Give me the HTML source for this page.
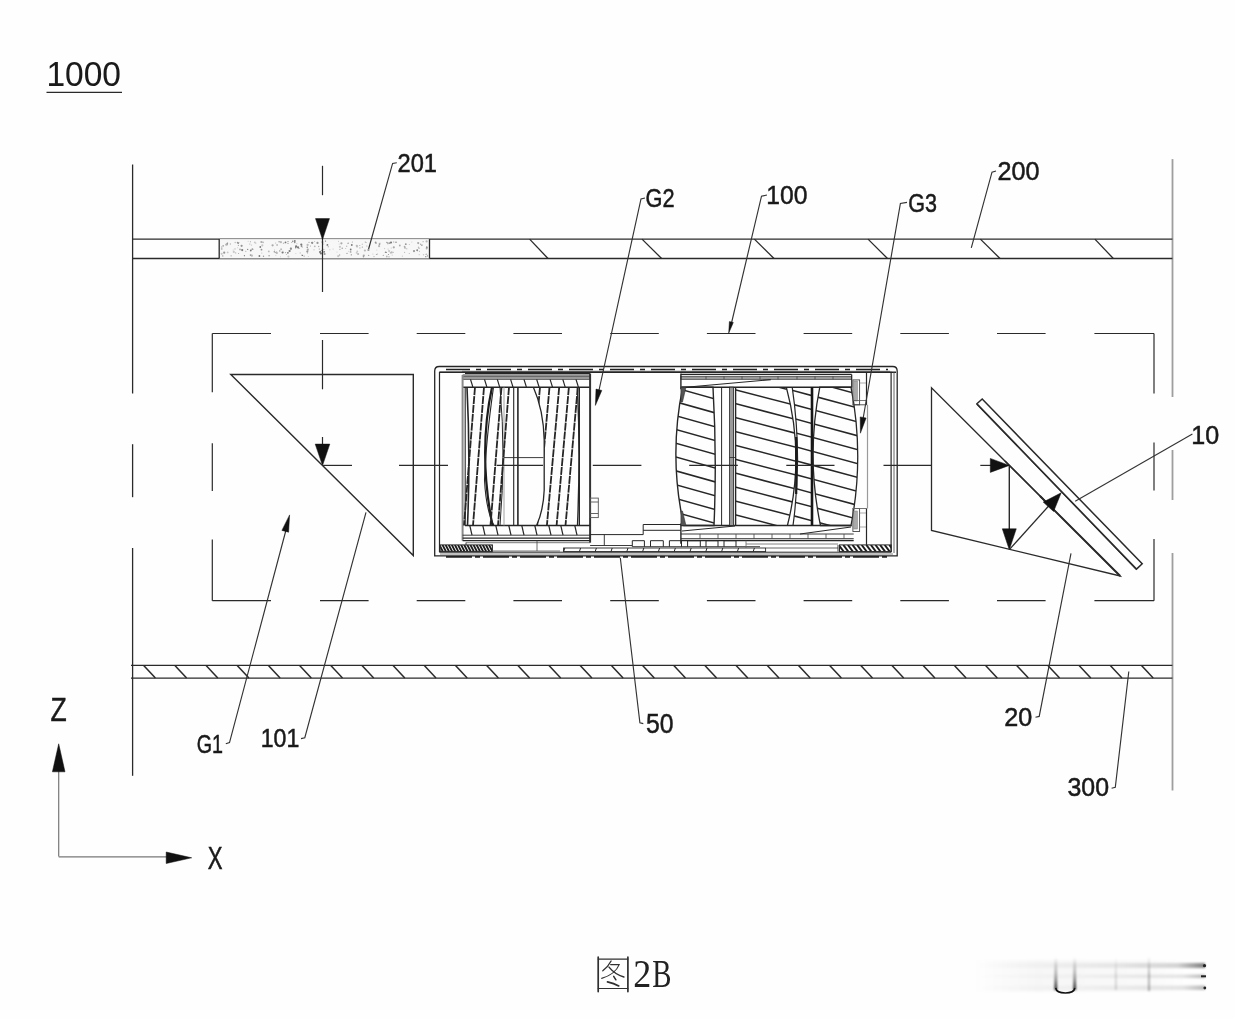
<!DOCTYPE html>
<html><head><meta charset="utf-8"><title>Fig 2B</title>
<style>
html,body{margin:0;padding:0;background:#fefefe;}
body{width:1235px;height:1019px;overflow:hidden;font-family:"Liberation Sans",sans-serif;}
svg{display:block;}
</style></head><body>
<svg width="1235" height="1019" viewBox="0 0 1235 1019">
<rect width="1235" height="1019" fill="#fefefe"/>
<g id="lens">
<path d="M434.7 555.8 V371 Q434.7 366.5 439.2 366.5 H892.7 Q897.2 366.5 897.2 371 V555.8 Z" fill="none" stroke="#262626" stroke-width="1.3" />
<path d="M439.5 552.2 V372.3 H891.1 V552.2" fill="none" stroke="#262626" stroke-width="1.2" />
<line x1="439.5" y1="372.3" x2="896.0" y2="372.3" stroke="#262626" stroke-width="1.5" />
<line x1="894.0" y1="372.3" x2="894.0" y2="553.0" stroke="#555" stroke-width="0.9" />
<line x1="446.0" y1="369.5" x2="888.0" y2="369.5" stroke="#222" stroke-width="1.7" stroke-dasharray="24 6 5 6"/>
<line x1="462.0" y1="371.3" x2="890.0" y2="371.3" stroke="#444" stroke-width="0.8" />
<line x1="439.5" y1="552.2" x2="891.1" y2="552.2" stroke="#262626" stroke-width="1.0" />
<line x1="440.0" y1="554.0" x2="893.0" y2="554.0" stroke="#666" stroke-width="0.8" />
<line x1="446.0" y1="556.8" x2="887.0" y2="556.8" stroke="#222" stroke-width="1.7" stroke-dasharray="26 3 5 3"/>
<line x1="465.0" y1="373.5" x2="590.1" y2="373.5" stroke="#262626" stroke-width="1.2" />
<line x1="462.6" y1="375.0" x2="590.1" y2="375.0" stroke="#262626" stroke-width="0.9" />
<rect x="462.6" y="376.2" width="127.5" height="3.1" fill="#9a9a9a" stroke="#262626" stroke-width="0.6" />
<line x1="462.6" y1="387.2" x2="590.1" y2="387.2" stroke="#262626" stroke-width="1.5" />
<line x1="470.5" y1="379.3" x2="472.9" y2="387.2" stroke="#262626" stroke-width="1.2" />
<line x1="484.5" y1="379.3" x2="486.9" y2="387.2" stroke="#262626" stroke-width="1.2" />
<line x1="497.3" y1="379.3" x2="499.7" y2="387.2" stroke="#262626" stroke-width="1.2" />
<line x1="510.6" y1="379.3" x2="513.0" y2="387.2" stroke="#262626" stroke-width="1.2" />
<line x1="524.0" y1="379.3" x2="526.4" y2="387.2" stroke="#262626" stroke-width="1.2" />
<line x1="536.7" y1="379.3" x2="539.1" y2="387.2" stroke="#262626" stroke-width="1.2" />
<line x1="550.1" y1="379.3" x2="552.5" y2="387.2" stroke="#262626" stroke-width="1.2" />
<line x1="562.8" y1="379.3" x2="565.2" y2="387.2" stroke="#262626" stroke-width="1.2" />
<line x1="576.0" y1="379.3" x2="578.4" y2="387.2" stroke="#262626" stroke-width="1.2" />
<line x1="462.6" y1="375.0" x2="462.6" y2="540.7" stroke="#8a8a8a" stroke-width="2.0" />
<line x1="465.2" y1="387.2" x2="465.2" y2="525.5" stroke="#262626" stroke-width="1.1" />
<line x1="590.1" y1="373.5" x2="590.1" y2="542.7" stroke="#333" stroke-width="2.0" />
<line x1="579.4" y1="387.2" x2="579.4" y2="525.5" stroke="#262626" stroke-width="1.2" />
<line x1="465.0" y1="525.5" x2="590.1" y2="525.5" stroke="#262626" stroke-width="1.6" />
<line x1="462.6" y1="535.2" x2="590.1" y2="535.2" stroke="#262626" stroke-width="0.9" />
<line x1="462.6" y1="538.2" x2="590.1" y2="538.2" stroke="#262626" stroke-width="1.2" />
<line x1="462.6" y1="540.7" x2="590.1" y2="540.7" stroke="#262626" stroke-width="1.2" />
<line x1="469.8" y1="525.5" x2="472.0" y2="535.2" stroke="#262626" stroke-width="1.2" />
<line x1="482.8" y1="525.5" x2="485.0" y2="535.2" stroke="#262626" stroke-width="1.2" />
<line x1="495.8" y1="525.5" x2="498.0" y2="535.2" stroke="#262626" stroke-width="1.2" />
<line x1="508.8" y1="525.5" x2="511.0" y2="535.2" stroke="#262626" stroke-width="1.2" />
<line x1="521.8" y1="525.5" x2="524.0" y2="535.2" stroke="#262626" stroke-width="1.2" />
<line x1="534.8" y1="525.5" x2="537.0" y2="535.2" stroke="#262626" stroke-width="1.2" />
<line x1="548.8" y1="525.5" x2="551.0" y2="535.2" stroke="#262626" stroke-width="1.2" />
<line x1="560.8" y1="525.5" x2="563.0" y2="535.2" stroke="#262626" stroke-width="1.2" />
<line x1="574.8" y1="525.5" x2="577.0" y2="535.2" stroke="#262626" stroke-width="1.2" />
<line x1="504.0" y1="387.2" x2="504.0" y2="525.5" stroke="#999" stroke-width="0.9" />
<line x1="513.7" y1="387.2" x2="513.7" y2="525.5" stroke="#262626" stroke-width="1.1" />
<line x1="517.9" y1="387.2" x2="517.9" y2="525.5" stroke="#262626" stroke-width="1.6" />
<line x1="504.0" y1="457.6" x2="543.4" y2="457.6" stroke="#262626" stroke-width="0.9" />
<path d="M467 387.2 Q470.5 456 467.5 525.5" fill="none" stroke="#262626" stroke-width="1.6" />
<path d="M492 387.2 Q478 452 492.5 525.5" fill="none" stroke="#1c1c1c" stroke-width="2.2" />
<path d="M493.5 387.2 Q486 440 484.5 480 Q486 510 494 525.5" fill="none" stroke="#262626" stroke-width="1.1" />
<path d="M500 387.2 Q506 455 500 525.5" fill="none" stroke="#262626" stroke-width="1.0" />
<line x1="475.0" y1="387.2" x2="464.0" y2="525.5" stroke="#262626" stroke-width="1.8" stroke-dasharray="8 0.9"/>
<line x1="484.0" y1="387.2" x2="473.0" y2="525.5" stroke="#262626" stroke-width="1.8" stroke-dasharray="8 0.9"/>
<line x1="501.5" y1="387.2" x2="490.5" y2="525.5" stroke="#262626" stroke-width="1.8" stroke-dasharray="8 0.9"/>
<line x1="509.0" y1="387.2" x2="498.0" y2="525.5" stroke="#262626" stroke-width="1.8" stroke-dasharray="8 0.9"/>
<clipPath id="cg2r"><path d="M533.4 387.2 Q543.5 410 544.2 440 V490 Q543.5 510 536.6 525.5 H579 V387.2 Z"/></clipPath>
<path d="M533.4 387.2 Q543.5 410 544.2 440 V490 Q543.5 510 536.6 525.5" fill="none" stroke="#262626" stroke-width="1.3" />
<g clip-path="url(#cg2r)">
<line x1="540.0" y1="387.2" x2="527.7" y2="525.5" stroke="#262626" stroke-width="1.8" stroke-dasharray="8 0.9"/>
<line x1="549.5" y1="387.2" x2="537.2" y2="525.5" stroke="#262626" stroke-width="1.8" stroke-dasharray="8 0.9"/>
<line x1="559.2" y1="387.2" x2="546.9" y2="525.5" stroke="#262626" stroke-width="1.8" stroke-dasharray="8 0.9"/>
<line x1="568.9" y1="387.2" x2="556.6" y2="525.5" stroke="#262626" stroke-width="1.8" stroke-dasharray="8 0.9"/>
<line x1="577.8" y1="387.2" x2="565.5" y2="525.5" stroke="#262626" stroke-width="1.8" stroke-dasharray="8 0.9"/>
</g>
<path d="M577.5 387.2 Q580.5 456 577.5 525.5" fill="none" stroke="#262626" stroke-width="1.4" />
<rect x="590.1" y="498.1" width="8.2" height="19.5" fill="none" stroke="#555" stroke-width="0.9" />
<line x1="590.1" y1="502.0" x2="598.3" y2="502.0" stroke="#555" stroke-width="0.9" />
<line x1="590.1" y1="513.5" x2="598.3" y2="513.5" stroke="#555" stroke-width="0.9" />
<line x1="680.9" y1="374.4" x2="851.7" y2="374.4" stroke="#262626" stroke-width="1.2" />
<rect x="680.9" y="376.2" width="170.8" height="3.1" fill="#9a9a9a" stroke="#262626" stroke-width="0.6" />
<line x1="706.0" y1="376.2" x2="706.0" y2="379.3" stroke="#444" stroke-width="0.8" />
<line x1="724.0" y1="376.2" x2="724.0" y2="379.3" stroke="#444" stroke-width="0.8" />
<line x1="742.0" y1="376.2" x2="742.0" y2="379.3" stroke="#444" stroke-width="0.8" />
<line x1="760.0" y1="376.2" x2="760.0" y2="379.3" stroke="#444" stroke-width="0.8" />
<line x1="778.0" y1="376.2" x2="778.0" y2="379.3" stroke="#444" stroke-width="0.8" />
<line x1="797.0" y1="376.2" x2="797.0" y2="379.3" stroke="#444" stroke-width="0.8" />
<line x1="815.0" y1="376.2" x2="815.0" y2="379.3" stroke="#444" stroke-width="0.8" />
<line x1="833.0" y1="376.2" x2="833.0" y2="379.3" stroke="#444" stroke-width="0.8" />
<line x1="680.9" y1="373.5" x2="680.9" y2="389.2" stroke="#262626" stroke-width="1.4" />
<line x1="680.9" y1="523.5" x2="680.9" y2="543.7" stroke="#262626" stroke-width="1.4" />
<line x1="680.9" y1="387.2" x2="851.7" y2="387.2" stroke="#262626" stroke-width="1.6" />
<line x1="685.8" y1="387.2" x2="770.8" y2="379.6" stroke="#262626" stroke-width="1.1" />
<line x1="851.7" y1="374.4" x2="851.7" y2="387.2" stroke="#262626" stroke-width="1.2" />
<line x1="680.9" y1="525.5" x2="851.7" y2="525.5" stroke="#262626" stroke-width="1.6" />
<line x1="680.9" y1="534.0" x2="853.7" y2="534.0" stroke="#262626" stroke-width="0.9" />
<line x1="680.9" y1="538.8" x2="853.7" y2="538.8" stroke="#262626" stroke-width="1.1" />
<line x1="680.9" y1="540.7" x2="853.7" y2="540.7" stroke="#262626" stroke-width="1.2" />
<line x1="682.0" y1="531.0" x2="735.0" y2="526.0" stroke="#262626" stroke-width="1.0" />
<line x1="800.0" y1="534.0" x2="851.0" y2="527.0" stroke="#262626" stroke-width="1.0" />
<line x1="700.0" y1="534.0" x2="700.0" y2="538.8" stroke="#444" stroke-width="0.8" />
<line x1="718.0" y1="534.0" x2="718.0" y2="538.8" stroke="#444" stroke-width="0.8" />
<line x1="736.0" y1="534.0" x2="736.0" y2="538.8" stroke="#444" stroke-width="0.8" />
<line x1="754.0" y1="534.0" x2="754.0" y2="538.8" stroke="#444" stroke-width="0.8" />
<line x1="772.0" y1="534.0" x2="772.0" y2="538.8" stroke="#444" stroke-width="0.8" />
<line x1="790.0" y1="534.0" x2="790.0" y2="538.8" stroke="#444" stroke-width="0.8" />
<line x1="808.0" y1="534.0" x2="808.0" y2="538.8" stroke="#444" stroke-width="0.8" />
<line x1="826.0" y1="534.0" x2="826.0" y2="538.8" stroke="#444" stroke-width="0.8" />
<line x1="844.0" y1="534.0" x2="844.0" y2="538.8" stroke="#444" stroke-width="0.8" />
<clipPath id="c1"><path d="M682.7 387.2 Q668.5 456.5 683.8 525.5 H714 Q717 456 713 387.2 Z"/></clipPath>
<g clip-path="url(#c1)">
<line x1="672.0" y1="373.2" x2="718.0" y2="386.1" stroke="#262626" stroke-width="1.5" />
<line x1="672.0" y1="387.0" x2="718.0" y2="399.9" stroke="#262626" stroke-width="1.5" />
<line x1="672.0" y1="400.8" x2="718.0" y2="413.7" stroke="#262626" stroke-width="1.5" />
<line x1="672.0" y1="414.6" x2="718.0" y2="427.5" stroke="#262626" stroke-width="1.5" />
<line x1="672.0" y1="428.4" x2="718.0" y2="441.3" stroke="#262626" stroke-width="1.5" />
<line x1="672.0" y1="442.2" x2="718.0" y2="455.1" stroke="#262626" stroke-width="1.5" />
<line x1="672.0" y1="456.0" x2="718.0" y2="468.9" stroke="#262626" stroke-width="1.5" />
<line x1="672.0" y1="469.8" x2="718.0" y2="482.7" stroke="#262626" stroke-width="1.5" />
<line x1="672.0" y1="483.6" x2="718.0" y2="496.5" stroke="#262626" stroke-width="1.5" />
<line x1="672.0" y1="497.4" x2="718.0" y2="510.3" stroke="#262626" stroke-width="1.5" />
<line x1="672.0" y1="511.2" x2="718.0" y2="524.1" stroke="#262626" stroke-width="1.5" />
<line x1="672.0" y1="525.0" x2="718.0" y2="537.9" stroke="#262626" stroke-width="1.5" />
<line x1="672.0" y1="538.8" x2="718.0" y2="551.7" stroke="#262626" stroke-width="1.5" />
</g>
<path d="M682.7 387.2 Q668.5 456.5 683.8 525.5 H714 Q717 456 713 387.2 Z" fill="none" stroke="#262626" stroke-width="1.4" />
<path d="M680.9 387.2 L686 387.2 L682.5 402 L680.9 402 Z" fill="#555" stroke="#262626" stroke-width="0.5" />
<path d="M680.9 525.5 L686 525.5 L682.5 511 L680.9 511 Z" fill="#555" stroke="#262626" stroke-width="0.5" />
<line x1="721.6" y1="387.2" x2="721.6" y2="525.5" stroke="#262626" stroke-width="1.0" />
<rect x="729.5" y="387.2" width="4.1" height="138.3" fill="#9a9a9a" stroke="#262626" stroke-width="0.8" />
<line x1="735.6" y1="387.2" x2="735.6" y2="525.5" stroke="#262626" stroke-width="1.4" />
<line x1="729.5" y1="457.5" x2="735.8" y2="457.5" stroke="#262626" stroke-width="0.8" />
<clipPath id="c2"><path d="M735.8 387.2 H786.3 Q805 456.5 787.4 525.5 H735.8 Z"/></clipPath>
<g clip-path="url(#c2)">
<line x1="735.0" y1="375.8" x2="800.0" y2="392.7" stroke="#262626" stroke-width="1.5" />
<line x1="735.0" y1="389.7" x2="800.0" y2="406.6" stroke="#262626" stroke-width="1.5" />
<line x1="735.0" y1="403.6" x2="800.0" y2="420.5" stroke="#262626" stroke-width="1.5" />
<line x1="735.0" y1="417.5" x2="800.0" y2="434.4" stroke="#262626" stroke-width="1.5" />
<line x1="735.0" y1="431.4" x2="800.0" y2="448.3" stroke="#262626" stroke-width="1.5" />
<line x1="735.0" y1="445.3" x2="800.0" y2="462.2" stroke="#262626" stroke-width="1.5" />
<line x1="735.0" y1="459.2" x2="800.0" y2="476.1" stroke="#262626" stroke-width="1.5" />
<line x1="735.0" y1="473.1" x2="800.0" y2="490.0" stroke="#262626" stroke-width="1.5" />
<line x1="735.0" y1="487.0" x2="800.0" y2="503.9" stroke="#262626" stroke-width="1.5" />
<line x1="735.0" y1="500.9" x2="800.0" y2="517.8" stroke="#262626" stroke-width="1.5" />
<line x1="735.0" y1="514.8" x2="800.0" y2="531.7" stroke="#262626" stroke-width="1.5" />
<line x1="735.0" y1="528.7" x2="800.0" y2="545.6" stroke="#262626" stroke-width="1.5" />
</g>
<path d="M786.3 387.2 Q805 456.5 787.4 525.5" fill="none" stroke="#262626" stroke-width="1.3" />
<clipPath id="c3"><path d="M792.2 387.2 Q802 456.5 793 525.5 H811 V387.2 Z"/></clipPath>
<g clip-path="url(#c3)">
<line x1="790.0" y1="375.8" x2="813.0" y2="382.0" stroke="#262626" stroke-width="1.5" />
<line x1="790.0" y1="389.7" x2="813.0" y2="395.9" stroke="#262626" stroke-width="1.5" />
<line x1="790.0" y1="403.6" x2="813.0" y2="409.8" stroke="#262626" stroke-width="1.5" />
<line x1="790.0" y1="417.5" x2="813.0" y2="423.7" stroke="#262626" stroke-width="1.5" />
<line x1="790.0" y1="431.4" x2="813.0" y2="437.6" stroke="#262626" stroke-width="1.5" />
<line x1="790.0" y1="445.3" x2="813.0" y2="451.5" stroke="#262626" stroke-width="1.5" />
<line x1="790.0" y1="459.2" x2="813.0" y2="465.4" stroke="#262626" stroke-width="1.5" />
<line x1="790.0" y1="473.1" x2="813.0" y2="479.3" stroke="#262626" stroke-width="1.5" />
<line x1="790.0" y1="487.0" x2="813.0" y2="493.2" stroke="#262626" stroke-width="1.5" />
<line x1="790.0" y1="500.9" x2="813.0" y2="507.1" stroke="#262626" stroke-width="1.5" />
<line x1="790.0" y1="514.8" x2="813.0" y2="521.0" stroke="#262626" stroke-width="1.5" />
<line x1="790.0" y1="528.7" x2="813.0" y2="534.9" stroke="#262626" stroke-width="1.5" />
</g>
<path d="M792.2 387.2 Q802.5 456.5 793 525.5" fill="none" stroke="#262626" stroke-width="1.2" />
<line x1="796.2" y1="437.0" x2="796.2" y2="494.0" stroke="#1a1a1a" stroke-width="2.2" />
<line x1="812.0" y1="387.2" x2="812.0" y2="525.5" stroke="#161616" stroke-width="2.6" />
<clipPath id="c4"><path d="M819.8 387.2 Q806 456.5 820.5 525.5 H851 Q864.5 456.5 851 387.2 Z"/></clipPath>
<g clip-path="url(#c4)">
<line x1="812.0" y1="367.8" x2="860.0" y2="380.8" stroke="#262626" stroke-width="1.5" />
<line x1="812.0" y1="381.7" x2="860.0" y2="394.7" stroke="#262626" stroke-width="1.5" />
<line x1="812.0" y1="395.6" x2="860.0" y2="408.6" stroke="#262626" stroke-width="1.5" />
<line x1="812.0" y1="409.5" x2="860.0" y2="422.5" stroke="#262626" stroke-width="1.5" />
<line x1="812.0" y1="423.4" x2="860.0" y2="436.4" stroke="#262626" stroke-width="1.5" />
<line x1="812.0" y1="437.3" x2="860.0" y2="450.3" stroke="#262626" stroke-width="1.5" />
<line x1="812.0" y1="451.2" x2="860.0" y2="464.2" stroke="#262626" stroke-width="1.5" />
<line x1="812.0" y1="465.1" x2="860.0" y2="478.1" stroke="#262626" stroke-width="1.5" />
<line x1="812.0" y1="479.0" x2="860.0" y2="492.0" stroke="#262626" stroke-width="1.5" />
<line x1="812.0" y1="492.9" x2="860.0" y2="505.9" stroke="#262626" stroke-width="1.5" />
<line x1="812.0" y1="506.8" x2="860.0" y2="519.8" stroke="#262626" stroke-width="1.5" />
<line x1="812.0" y1="520.7" x2="860.0" y2="533.7" stroke="#262626" stroke-width="1.5" />
<line x1="812.0" y1="534.6" x2="860.0" y2="547.6" stroke="#262626" stroke-width="1.5" />
</g>
<path d="M819.8 387.2 Q806 456.5 820.5 525.5 H851 Q864.5 456.5 851 387.2 Z" fill="none" stroke="#262626" stroke-width="1.3" />
<rect x="852.9" y="379.9" width="6.7" height="24.9" fill="none" stroke="#444" stroke-width="0.9" />
<rect x="853.8" y="381.0" width="3.6" height="20.0" fill="#aaa" stroke="#777" stroke-width="0.5" />
<rect x="852.9" y="508.5" width="6.7" height="23.0" fill="none" stroke="#444" stroke-width="0.9" />
<rect x="853.8" y="511.0" width="3.6" height="18.0" fill="#aaa" stroke="#777" stroke-width="0.5" />
<line x1="859.6" y1="383.0" x2="866.5" y2="383.0" stroke="#888" stroke-width="0.7" />
<line x1="852.9" y1="400.5" x2="866.5" y2="400.5" stroke="#555" stroke-width="0.8" />
<line x1="852.9" y1="404.8" x2="866.5" y2="404.8" stroke="#444" stroke-width="0.9" />
<line x1="852.9" y1="508.5" x2="866.5" y2="508.5" stroke="#666" stroke-width="0.9" />
<line x1="859.6" y1="513.0" x2="866.5" y2="513.0" stroke="#888" stroke-width="0.7" />
<line x1="859.6" y1="527.0" x2="866.5" y2="527.0" stroke="#888" stroke-width="0.7" />
<line x1="866.5" y1="372.3" x2="866.5" y2="404.8" stroke="#262626" stroke-width="1.2" />
<line x1="867.5" y1="404.8" x2="867.5" y2="508.5" stroke="#9a9a9a" stroke-width="1.2" />
<line x1="866.5" y1="508.5" x2="866.5" y2="544.9" stroke="#262626" stroke-width="1.2" />
<clipPath id="hb440"><rect x="440.1" y="544.9" width="52.299999999999955" height="6.7000000000000455"/></clipPath>
<g clip-path="url(#hb440)">
<line x1="430.1" y1="544.9" x2="433.6" y2="551.6" stroke="#1c1c1c" stroke-width="1.9" />
<line x1="433.2" y1="544.9" x2="436.7" y2="551.6" stroke="#1c1c1c" stroke-width="1.9" />
<line x1="436.3" y1="544.9" x2="439.8" y2="551.6" stroke="#1c1c1c" stroke-width="1.9" />
<line x1="439.4" y1="544.9" x2="442.9" y2="551.6" stroke="#1c1c1c" stroke-width="1.9" />
<line x1="442.5" y1="544.9" x2="446.0" y2="551.6" stroke="#1c1c1c" stroke-width="1.9" />
<line x1="445.6" y1="544.9" x2="449.1" y2="551.6" stroke="#1c1c1c" stroke-width="1.9" />
<line x1="448.7" y1="544.9" x2="452.2" y2="551.6" stroke="#1c1c1c" stroke-width="1.9" />
<line x1="451.8" y1="544.9" x2="455.3" y2="551.6" stroke="#1c1c1c" stroke-width="1.9" />
<line x1="454.9" y1="544.9" x2="458.4" y2="551.6" stroke="#1c1c1c" stroke-width="1.9" />
<line x1="458.0" y1="544.9" x2="461.5" y2="551.6" stroke="#1c1c1c" stroke-width="1.9" />
<line x1="461.1" y1="544.9" x2="464.6" y2="551.6" stroke="#1c1c1c" stroke-width="1.9" />
<line x1="464.2" y1="544.9" x2="467.7" y2="551.6" stroke="#1c1c1c" stroke-width="1.9" />
<line x1="467.3" y1="544.9" x2="470.8" y2="551.6" stroke="#1c1c1c" stroke-width="1.9" />
<line x1="470.4" y1="544.9" x2="473.9" y2="551.6" stroke="#1c1c1c" stroke-width="1.9" />
<line x1="473.5" y1="544.9" x2="477.0" y2="551.6" stroke="#1c1c1c" stroke-width="1.9" />
<line x1="476.6" y1="544.9" x2="480.1" y2="551.6" stroke="#1c1c1c" stroke-width="1.9" />
<line x1="479.7" y1="544.9" x2="483.2" y2="551.6" stroke="#1c1c1c" stroke-width="1.9" />
<line x1="482.8" y1="544.9" x2="486.3" y2="551.6" stroke="#1c1c1c" stroke-width="1.9" />
<line x1="485.9" y1="544.9" x2="489.4" y2="551.6" stroke="#1c1c1c" stroke-width="1.9" />
<line x1="489.0" y1="544.9" x2="492.5" y2="551.6" stroke="#1c1c1c" stroke-width="1.9" />
<line x1="492.1" y1="544.9" x2="495.6" y2="551.6" stroke="#1c1c1c" stroke-width="1.9" />
<line x1="495.2" y1="544.9" x2="498.7" y2="551.6" stroke="#1c1c1c" stroke-width="1.9" />
<line x1="498.3" y1="544.9" x2="501.8" y2="551.6" stroke="#1c1c1c" stroke-width="1.9" />
<line x1="501.4" y1="544.9" x2="504.9" y2="551.6" stroke="#1c1c1c" stroke-width="1.9" />
</g>
<rect x="440.1" y="544.9" width="52.3" height="6.7" fill="none" stroke="#262626" stroke-width="1.0" />
<clipPath id="hb839"><rect x="839.5" y="544.9" width="51.700000000000045" height="6.7000000000000455"/></clipPath>
<g clip-path="url(#hb839)">
<line x1="829.5" y1="544.9" x2="834.5" y2="551.6" stroke="#1c1c1c" stroke-width="1.9" />
<line x1="834.1" y1="544.9" x2="839.1" y2="551.6" stroke="#1c1c1c" stroke-width="1.9" />
<line x1="838.7" y1="544.9" x2="843.7" y2="551.6" stroke="#1c1c1c" stroke-width="1.9" />
<line x1="843.3" y1="544.9" x2="848.3" y2="551.6" stroke="#1c1c1c" stroke-width="1.9" />
<line x1="847.9" y1="544.9" x2="852.9" y2="551.6" stroke="#1c1c1c" stroke-width="1.9" />
<line x1="852.5" y1="544.9" x2="857.5" y2="551.6" stroke="#1c1c1c" stroke-width="1.9" />
<line x1="857.1" y1="544.9" x2="862.1" y2="551.6" stroke="#1c1c1c" stroke-width="1.9" />
<line x1="861.7" y1="544.9" x2="866.7" y2="551.6" stroke="#1c1c1c" stroke-width="1.9" />
<line x1="866.3" y1="544.9" x2="871.3" y2="551.6" stroke="#1c1c1c" stroke-width="1.9" />
<line x1="870.9" y1="544.9" x2="875.9" y2="551.6" stroke="#1c1c1c" stroke-width="1.9" />
<line x1="875.5" y1="544.9" x2="880.5" y2="551.6" stroke="#1c1c1c" stroke-width="1.9" />
<line x1="880.1" y1="544.9" x2="885.1" y2="551.6" stroke="#1c1c1c" stroke-width="1.9" />
<line x1="884.7" y1="544.9" x2="889.7" y2="551.6" stroke="#1c1c1c" stroke-width="1.9" />
<line x1="889.3" y1="544.9" x2="894.3" y2="551.6" stroke="#1c1c1c" stroke-width="1.9" />
<line x1="893.9" y1="544.9" x2="898.9" y2="551.6" stroke="#1c1c1c" stroke-width="1.9" />
<line x1="898.5" y1="544.9" x2="903.5" y2="551.6" stroke="#1c1c1c" stroke-width="1.9" />
</g>
<rect x="839.5" y="544.9" width="51.7" height="6.7" fill="none" stroke="#262626" stroke-width="1.0" />
<line x1="466.0" y1="542.5" x2="466.0" y2="544.9" stroke="#262626" stroke-width="0.9" />
<line x1="466.0" y1="542.7" x2="590.0" y2="542.7" stroke="#555" stroke-width="0.8" />
<line x1="492.4" y1="551.0" x2="560.0" y2="551.0" stroke="#666" stroke-width="0.9" />
<path d="M590.1 534.6 H643.2 V524.5 H680.9 M643.2 530.3 H680.9" fill="none" stroke="#262626" stroke-width="1.0" />
<line x1="604.3" y1="534.6" x2="604.3" y2="545.5" stroke="#262626" stroke-width="0.9" />
<line x1="590.1" y1="545.5" x2="632.0" y2="545.5" stroke="#262626" stroke-width="0.9" />
<line x1="537.0" y1="540.7" x2="537.0" y2="551.0" stroke="#444" stroke-width="0.8" />
<path d="M632.3 546.7 V540.7 H644.4 V546.7" fill="none" stroke="#262626" stroke-width="1.0" />
<path d="M650.5 546.7 V540.7 H663.3 V546.7" fill="none" stroke="#262626" stroke-width="1.0" />
<path d="M669.4 546.7 V540.7 H681.5 V546.7" fill="none" stroke="#262626" stroke-width="1.0" />
<path d="M687.6 546.7 V540.7 H700.3 V546.7" fill="none" stroke="#262626" stroke-width="1.0" />
<path d="M706 546.7 V540.7 H718 V546.7" fill="none" stroke="#262626" stroke-width="1.0" />
<path d="M724 546.7 V540.7 H736 V546.7" fill="none" stroke="#262626" stroke-width="1.0" />
<line x1="632.3" y1="546.7" x2="760.0" y2="546.7" stroke="#262626" stroke-width="0.9" />
<rect x="563.6" y="548.0" width="202.0" height="3.6" fill="none" stroke="#262626" stroke-width="0.9" />
<line x1="564.8" y1="548.0" x2="563.6" y2="551.6" stroke="#262626" stroke-width="1.0" />
<line x1="580.6" y1="548.0" x2="579.4" y2="551.6" stroke="#262626" stroke-width="1.0" />
<line x1="596.4" y1="548.0" x2="595.2" y2="551.6" stroke="#262626" stroke-width="1.0" />
<line x1="612.2" y1="548.0" x2="611.0" y2="551.6" stroke="#262626" stroke-width="1.0" />
<line x1="628.0" y1="548.0" x2="626.8" y2="551.6" stroke="#262626" stroke-width="1.0" />
<line x1="643.8" y1="548.0" x2="642.6" y2="551.6" stroke="#262626" stroke-width="1.0" />
<line x1="659.6" y1="548.0" x2="658.4" y2="551.6" stroke="#262626" stroke-width="1.0" />
<line x1="675.4" y1="548.0" x2="674.2" y2="551.6" stroke="#262626" stroke-width="1.0" />
<line x1="691.2" y1="548.0" x2="690.0" y2="551.6" stroke="#262626" stroke-width="1.0" />
<line x1="707.0" y1="548.0" x2="705.8" y2="551.6" stroke="#262626" stroke-width="1.0" />
<line x1="722.8" y1="548.0" x2="721.6" y2="551.6" stroke="#262626" stroke-width="1.0" />
<line x1="738.6" y1="548.0" x2="737.4" y2="551.6" stroke="#262626" stroke-width="1.0" />
<line x1="754.4" y1="548.0" x2="753.2" y2="551.6" stroke="#262626" stroke-width="1.0" />
<line x1="766.0" y1="548.0" x2="838.0" y2="548.0" stroke="#555" stroke-width="0.9" />
<line x1="838.0" y1="544.9" x2="838.0" y2="551.6" stroke="#262626" stroke-width="0.9" />
<line x1="746.0" y1="544.0" x2="838.0" y2="544.0" stroke="#666" stroke-width="0.8" />
<line x1="746.0" y1="540.7" x2="746.0" y2="548.0" stroke="#666" stroke-width="0.8" />
</g>
<g id="main">
<line x1="132.6" y1="164.5" x2="132.6" y2="393.5" stroke="#2a2a2a" stroke-width="1.3" />
<line x1="132.6" y1="444.2" x2="132.6" y2="497.2" stroke="#2a2a2a" stroke-width="1.3" />
<line x1="132.6" y1="548.0" x2="132.6" y2="775.8" stroke="#2a2a2a" stroke-width="1.3" />
<line x1="1172.5" y1="159.1" x2="1172.5" y2="397.0" stroke="#9e9e9e" stroke-width="1.8" />
<line x1="1172.5" y1="450.0" x2="1172.5" y2="500.0" stroke="#9e9e9e" stroke-width="1.8" />
<line x1="1172.5" y1="553.0" x2="1172.5" y2="790.5" stroke="#9e9e9e" stroke-width="1.8" />
<line x1="132.6" y1="239.1" x2="1172.4" y2="239.1" stroke="#2a2a2a" stroke-width="1.3" />
<line x1="132.6" y1="258.5" x2="1172.4" y2="258.5" stroke="#2a2a2a" stroke-width="1.3" />
<rect x="219.2" y="239.1" width="210.3" height="19.4" fill="#f7f7f7" stroke="none"/>
<line x1="219.2" y1="239.1" x2="219.2" y2="258.5" stroke="#2a2a2a" stroke-width="1.3" />
<line x1="429.5" y1="239.1" x2="429.5" y2="258.5" stroke="#2a2a2a" stroke-width="1.3" />
<circle cx="288.0" cy="243.4" r="0.5" fill="rgb(120,120,120)"/>
<circle cx="391.0" cy="242.5" r="1.1" fill="rgb(120,120,120)"/>
<circle cx="409.3" cy="244.4" r="0.5" fill="rgb(185,185,185)"/>
<circle cx="307.6" cy="244.9" r="1.1" fill="rgb(185,185,185)"/>
<circle cx="233.2" cy="250.0" r="0.6" fill="rgb(200,200,200)"/>
<circle cx="417.2" cy="250.2" r="0.9" fill="rgb(120,120,120)"/>
<circle cx="423.1" cy="241.7" r="0.6" fill="rgb(170,170,170)"/>
<circle cx="307.8" cy="249.7" r="1.1" fill="rgb(170,170,170)"/>
<circle cx="337.0" cy="251.9" r="0.5" fill="rgb(200,200,200)"/>
<circle cx="339.2" cy="244.0" r="0.5" fill="rgb(200,200,200)"/>
<circle cx="368.4" cy="250.0" r="1.1" fill="rgb(150,150,150)"/>
<circle cx="323.8" cy="249.5" r="0.7" fill="rgb(185,185,185)"/>
<circle cx="342.2" cy="248.3" r="0.7" fill="rgb(150,150,150)"/>
<circle cx="385.4" cy="252.2" r="0.6" fill="rgb(120,120,120)"/>
<circle cx="339.9" cy="249.4" r="0.7" fill="rgb(185,185,185)"/>
<circle cx="280.6" cy="256.7" r="0.5" fill="rgb(200,200,200)"/>
<circle cx="307.6" cy="253.1" r="0.6" fill="rgb(185,185,185)"/>
<circle cx="308.3" cy="256.4" r="0.5" fill="rgb(200,200,200)"/>
<circle cx="339.6" cy="255.0" r="0.7" fill="rgb(170,170,170)"/>
<circle cx="364.9" cy="250.5" r="1.1" fill="rgb(185,185,185)"/>
<circle cx="235.2" cy="242.5" r="0.7" fill="rgb(185,185,185)"/>
<circle cx="365.3" cy="242.0" r="0.7" fill="rgb(200,200,200)"/>
<circle cx="426.6" cy="254.2" r="0.7" fill="rgb(185,185,185)"/>
<circle cx="404.6" cy="246.6" r="0.9" fill="rgb(170,170,170)"/>
<circle cx="255.8" cy="242.9" r="0.5" fill="rgb(150,150,150)"/>
<circle cx="380.0" cy="243.1" r="0.6" fill="rgb(185,185,185)"/>
<circle cx="301.9" cy="254.9" r="0.5" fill="rgb(150,150,150)"/>
<circle cx="314.0" cy="249.8" r="0.6" fill="rgb(185,185,185)"/>
<circle cx="399.8" cy="245.5" r="0.9" fill="rgb(170,170,170)"/>
<circle cx="362.3" cy="247.1" r="0.6" fill="rgb(150,150,150)"/>
<circle cx="238.2" cy="243.4" r="0.6" fill="rgb(120,120,120)"/>
<circle cx="321.4" cy="250.4" r="0.7" fill="rgb(170,170,170)"/>
<circle cx="221.8" cy="247.7" r="0.7" fill="rgb(200,200,200)"/>
<circle cx="338.2" cy="256.2" r="1.1" fill="rgb(200,200,200)"/>
<circle cx="356.6" cy="252.8" r="0.9" fill="rgb(200,200,200)"/>
<circle cx="302.2" cy="247.4" r="0.5" fill="rgb(185,185,185)"/>
<circle cx="352.3" cy="242.0" r="0.5" fill="rgb(150,150,150)"/>
<circle cx="312.2" cy="242.8" r="1.1" fill="rgb(120,120,120)"/>
<circle cx="242.2" cy="250.1" r="1.1" fill="rgb(120,120,120)"/>
<circle cx="417.4" cy="250.8" r="0.5" fill="rgb(150,150,150)"/>
<circle cx="348.1" cy="243.4" r="0.7" fill="rgb(170,170,170)"/>
<circle cx="345.7" cy="248.6" r="0.5" fill="rgb(185,185,185)"/>
<circle cx="426.6" cy="248.5" r="0.9" fill="rgb(170,170,170)"/>
<circle cx="238.8" cy="242.6" r="0.7" fill="rgb(170,170,170)"/>
<circle cx="320.1" cy="252.1" r="1.1" fill="rgb(120,120,120)"/>
<circle cx="263.5" cy="256.2" r="0.7" fill="rgb(150,150,150)"/>
<circle cx="363.8" cy="255.6" r="1.1" fill="rgb(170,170,170)"/>
<circle cx="423.5" cy="254.8" r="0.7" fill="rgb(200,200,200)"/>
<circle cx="296.9" cy="243.7" r="0.6" fill="rgb(200,200,200)"/>
<circle cx="333.1" cy="249.0" r="0.6" fill="rgb(200,200,200)"/>
<circle cx="389.0" cy="256.8" r="0.6" fill="rgb(150,150,150)"/>
<circle cx="390.4" cy="252.8" r="0.6" fill="rgb(150,150,150)"/>
<circle cx="328.2" cy="246.7" r="0.5" fill="rgb(120,120,120)"/>
<circle cx="384.6" cy="248.6" r="0.6" fill="rgb(200,200,200)"/>
<circle cx="419.0" cy="248.2" r="0.7" fill="rgb(170,170,170)"/>
<circle cx="237.7" cy="242.6" r="0.9" fill="rgb(150,150,150)"/>
<circle cx="290.9" cy="248.7" r="1.1" fill="rgb(120,120,120)"/>
<circle cx="320.3" cy="251.4" r="0.5" fill="rgb(120,120,120)"/>
<circle cx="409.3" cy="253.5" r="0.6" fill="rgb(185,185,185)"/>
<circle cx="405.0" cy="247.9" r="0.7" fill="rgb(120,120,120)"/>
<circle cx="386.8" cy="256.5" r="0.9" fill="rgb(185,185,185)"/>
<circle cx="304.1" cy="256.1" r="0.6" fill="rgb(150,150,150)"/>
<circle cx="426.6" cy="241.4" r="1.1" fill="rgb(185,185,185)"/>
<circle cx="387.9" cy="243.3" r="1.1" fill="rgb(185,185,185)"/>
<circle cx="357.1" cy="246.6" r="1.1" fill="rgb(200,200,200)"/>
<circle cx="248.1" cy="241.2" r="0.5" fill="rgb(200,200,200)"/>
<circle cx="376.1" cy="243.2" r="0.6" fill="rgb(150,150,150)"/>
<circle cx="226.8" cy="244.4" r="1.1" fill="rgb(150,150,150)"/>
<circle cx="379.1" cy="246.2" r="1.1" fill="rgb(185,185,185)"/>
<circle cx="393.7" cy="242.0" r="0.7" fill="rgb(185,185,185)"/>
<circle cx="358.1" cy="254.0" r="1.1" fill="rgb(185,185,185)"/>
<circle cx="392.2" cy="255.1" r="0.6" fill="rgb(200,200,200)"/>
<circle cx="252.4" cy="249.2" r="0.9" fill="rgb(150,150,150)"/>
<circle cx="347.0" cy="253.4" r="0.6" fill="rgb(150,150,150)"/>
<circle cx="250.3" cy="250.9" r="0.5" fill="rgb(200,200,200)"/>
<circle cx="233.8" cy="251.9" r="1.1" fill="rgb(200,200,200)"/>
<circle cx="320.9" cy="253.4" r="1.1" fill="rgb(120,120,120)"/>
<circle cx="272.4" cy="245.4" r="0.5" fill="rgb(200,200,200)"/>
<circle cx="314.6" cy="241.4" r="0.5" fill="rgb(185,185,185)"/>
<circle cx="288.4" cy="256.6" r="1.1" fill="rgb(200,200,200)"/>
<circle cx="262.3" cy="245.4" r="1.1" fill="rgb(200,200,200)"/>
<circle cx="388.1" cy="249.1" r="0.6" fill="rgb(200,200,200)"/>
<circle cx="402.4" cy="256.1" r="0.7" fill="rgb(200,200,200)"/>
<circle cx="405.8" cy="244.2" r="0.9" fill="rgb(150,150,150)"/>
<circle cx="307.2" cy="247.3" r="0.7" fill="rgb(120,120,120)"/>
<circle cx="359.9" cy="247.9" r="0.6" fill="rgb(170,170,170)"/>
<circle cx="383.3" cy="255.4" r="0.6" fill="rgb(170,170,170)"/>
<circle cx="250.6" cy="255.1" r="0.9" fill="rgb(150,150,150)"/>
<circle cx="375.6" cy="242.5" r="0.9" fill="rgb(150,150,150)"/>
<circle cx="425.9" cy="254.3" r="0.6" fill="rgb(185,185,185)"/>
<circle cx="426.8" cy="247.5" r="0.9" fill="rgb(150,150,150)"/>
<circle cx="294.8" cy="242.5" r="0.7" fill="rgb(120,120,120)"/>
<circle cx="291.0" cy="248.3" r="0.5" fill="rgb(185,185,185)"/>
<circle cx="289.6" cy="251.0" r="1.1" fill="rgb(120,120,120)"/>
<circle cx="244.4" cy="255.7" r="0.6" fill="rgb(120,120,120)"/>
<circle cx="238.4" cy="245.4" r="0.6" fill="rgb(170,170,170)"/>
<circle cx="377.4" cy="254.1" r="0.7" fill="rgb(185,185,185)"/>
<circle cx="251.9" cy="255.7" r="1.1" fill="rgb(185,185,185)"/>
<circle cx="366.0" cy="242.4" r="0.5" fill="rgb(150,150,150)"/>
<circle cx="309.0" cy="242.2" r="0.5" fill="rgb(120,120,120)"/>
<circle cx="386.9" cy="242.3" r="0.6" fill="rgb(120,120,120)"/>
<circle cx="275.7" cy="242.9" r="0.5" fill="rgb(170,170,170)"/>
<circle cx="426.8" cy="247.7" r="0.7" fill="rgb(200,200,200)"/>
<circle cx="247.7" cy="249.4" r="0.6" fill="rgb(120,120,120)"/>
<circle cx="421.6" cy="245.2" r="0.6" fill="rgb(150,150,150)"/>
<circle cx="414.0" cy="251.1" r="1.1" fill="rgb(150,150,150)"/>
<circle cx="281.0" cy="249.0" r="0.6" fill="rgb(170,170,170)"/>
<circle cx="292.8" cy="241.3" r="0.7" fill="rgb(120,120,120)"/>
<circle cx="224.2" cy="252.7" r="1.1" fill="rgb(150,150,150)"/>
<circle cx="327.4" cy="244.9" r="0.9" fill="rgb(120,120,120)"/>
<circle cx="357.3" cy="251.4" r="0.9" fill="rgb(200,200,200)"/>
<circle cx="393.8" cy="247.3" r="1.1" fill="rgb(170,170,170)"/>
<circle cx="363.4" cy="256.7" r="0.7" fill="rgb(150,150,150)"/>
<circle cx="393.3" cy="252.3" r="0.6" fill="rgb(185,185,185)"/>
<circle cx="425.8" cy="256.7" r="0.6" fill="rgb(120,120,120)"/>
<circle cx="235.6" cy="252.9" r="0.7" fill="rgb(185,185,185)"/>
<circle cx="254.8" cy="242.4" r="0.9" fill="rgb(200,200,200)"/>
<circle cx="359.8" cy="245.5" r="0.6" fill="rgb(170,170,170)"/>
<circle cx="230.4" cy="244.0" r="0.7" fill="rgb(185,185,185)"/>
<circle cx="221.7" cy="246.8" r="0.7" fill="rgb(200,200,200)"/>
<circle cx="288.0" cy="241.6" r="0.7" fill="rgb(150,150,150)"/>
<circle cx="294.8" cy="241.0" r="0.9" fill="rgb(120,120,120)"/>
<circle cx="319.3" cy="249.0" r="0.6" fill="rgb(150,150,150)"/>
<circle cx="325.5" cy="241.1" r="0.7" fill="rgb(120,120,120)"/>
<circle cx="250.8" cy="250.4" r="0.9" fill="rgb(120,120,120)"/>
<circle cx="283.0" cy="251.1" r="0.5" fill="rgb(200,200,200)"/>
<circle cx="419.2" cy="254.7" r="0.6" fill="rgb(200,200,200)"/>
<circle cx="301.6" cy="246.2" r="0.9" fill="rgb(150,150,150)"/>
<circle cx="279.8" cy="250.9" r="0.6" fill="rgb(120,120,120)"/>
<circle cx="391.7" cy="252.4" r="1.1" fill="rgb(185,185,185)"/>
<circle cx="372.9" cy="254.0" r="0.6" fill="rgb(200,200,200)"/>
<circle cx="376.8" cy="250.1" r="0.5" fill="rgb(200,200,200)"/>
<circle cx="386.2" cy="252.4" r="0.6" fill="rgb(120,120,120)"/>
<circle cx="227.5" cy="243.1" r="0.7" fill="rgb(120,120,120)"/>
<circle cx="299.0" cy="248.2" r="0.5" fill="rgb(120,120,120)"/>
<circle cx="350.6" cy="251.9" r="0.9" fill="rgb(170,170,170)"/>
<circle cx="221.7" cy="253.8" r="1.1" fill="rgb(200,200,200)"/>
<circle cx="240.0" cy="249.4" r="0.9" fill="rgb(170,170,170)"/>
<circle cx="388.5" cy="254.5" r="0.6" fill="rgb(150,150,150)"/>
<circle cx="268.8" cy="251.4" r="0.9" fill="rgb(185,185,185)"/>
<circle cx="396.0" cy="242.2" r="0.7" fill="rgb(120,120,120)"/>
<circle cx="348.7" cy="251.3" r="0.5" fill="rgb(200,200,200)"/>
<circle cx="251.5" cy="245.1" r="0.7" fill="rgb(200,200,200)"/>
<circle cx="338.5" cy="241.2" r="0.5" fill="rgb(185,185,185)"/>
<circle cx="276.6" cy="251.8" r="0.6" fill="rgb(185,185,185)"/>
<circle cx="281.2" cy="249.3" r="0.9" fill="rgb(185,185,185)"/>
<circle cx="317.5" cy="242.9" r="1.1" fill="rgb(150,150,150)"/>
<circle cx="285.5" cy="242.4" r="0.9" fill="rgb(120,120,120)"/>
<circle cx="280.9" cy="242.2" r="1.1" fill="rgb(185,185,185)"/>
<circle cx="426.8" cy="247.2" r="0.6" fill="rgb(120,120,120)"/>
<circle cx="341.4" cy="243.3" r="1.1" fill="rgb(170,170,170)"/>
<circle cx="418.2" cy="243.1" r="1.1" fill="rgb(170,170,170)"/>
<circle cx="404.6" cy="252.3" r="0.6" fill="rgb(185,185,185)"/>
<circle cx="406.8" cy="248.8" r="0.5" fill="rgb(150,150,150)"/>
<circle cx="221.7" cy="248.9" r="0.9" fill="rgb(185,185,185)"/>
<circle cx="283.5" cy="243.3" r="0.7" fill="rgb(185,185,185)"/>
<circle cx="286.4" cy="254.4" r="0.5" fill="rgb(170,170,170)"/>
<circle cx="376.4" cy="254.4" r="0.5" fill="rgb(150,150,150)"/>
<circle cx="368.6" cy="255.4" r="0.7" fill="rgb(170,170,170)"/>
<circle cx="298.0" cy="247.3" r="1.1" fill="rgb(120,120,120)"/>
<circle cx="295.7" cy="247.8" r="0.7" fill="rgb(120,120,120)"/>
<circle cx="279.1" cy="241.8" r="0.7" fill="rgb(150,150,150)"/>
<circle cx="272.6" cy="245.3" r="1.1" fill="rgb(170,170,170)"/>
<circle cx="260.3" cy="247.0" r="0.9" fill="rgb(120,120,120)"/>
<circle cx="389.1" cy="251.1" r="1.1" fill="rgb(200,200,200)"/>
<circle cx="263.1" cy="242.3" r="0.9" fill="rgb(185,185,185)"/>
<circle cx="348.3" cy="243.2" r="0.7" fill="rgb(185,185,185)"/>
<circle cx="231.1" cy="255.8" r="0.6" fill="rgb(150,150,150)"/>
<circle cx="318.7" cy="246.5" r="0.7" fill="rgb(170,170,170)"/>
<circle cx="374.0" cy="256.6" r="0.7" fill="rgb(185,185,185)"/>
<circle cx="356.8" cy="245.8" r="1.1" fill="rgb(185,185,185)"/>
<circle cx="245.8" cy="251.3" r="0.5" fill="rgb(150,150,150)"/>
<circle cx="324.6" cy="254.0" r="1.1" fill="rgb(150,150,150)"/>
<circle cx="314.8" cy="246.3" r="0.9" fill="rgb(185,185,185)"/>
<circle cx="249.9" cy="244.1" r="0.5" fill="rgb(150,150,150)"/>
<circle cx="291.8" cy="242.5" r="0.6" fill="rgb(170,170,170)"/>
<circle cx="274.5" cy="250.1" r="0.5" fill="rgb(185,185,185)"/>
<circle cx="300.2" cy="252.9" r="0.6" fill="rgb(185,185,185)"/>
<circle cx="276.9" cy="253.0" r="0.9" fill="rgb(170,170,170)"/>
<circle cx="339.9" cy="246.8" r="1.1" fill="rgb(200,200,200)"/>
<circle cx="351.3" cy="254.8" r="0.6" fill="rgb(120,120,120)"/>
<circle cx="277.1" cy="245.0" r="0.9" fill="rgb(185,185,185)"/>
<circle cx="310.4" cy="246.0" r="0.5" fill="rgb(150,150,150)"/>
<circle cx="227.7" cy="252.4" r="0.9" fill="rgb(200,200,200)"/>
<circle cx="322.4" cy="242.2" r="1.1" fill="rgb(185,185,185)"/>
<circle cx="422.3" cy="245.0" r="0.5" fill="rgb(150,150,150)"/>
<circle cx="253.0" cy="249.4" r="0.5" fill="rgb(185,185,185)"/>
<circle cx="238.6" cy="253.4" r="0.5" fill="rgb(150,150,150)"/>
<circle cx="269.1" cy="255.7" r="0.7" fill="rgb(150,150,150)"/>
<circle cx="350.7" cy="249.5" r="0.9" fill="rgb(120,120,120)"/>
<circle cx="241.6" cy="245.8" r="1.1" fill="rgb(150,150,150)"/>
<circle cx="301.3" cy="244.6" r="1.1" fill="rgb(120,120,120)"/>
<circle cx="223.2" cy="245.8" r="0.9" fill="rgb(170,170,170)"/>
<circle cx="419.5" cy="251.3" r="0.6" fill="rgb(185,185,185)"/>
<circle cx="329.9" cy="249.8" r="0.5" fill="rgb(185,185,185)"/>
<circle cx="366.9" cy="245.9" r="0.5" fill="rgb(150,150,150)"/>
<circle cx="324.2" cy="251.8" r="0.9" fill="rgb(120,120,120)"/>
<circle cx="274.3" cy="251.7" r="0.7" fill="rgb(150,150,150)"/>
<circle cx="323.0" cy="252.1" r="0.9" fill="rgb(170,170,170)"/>
<circle cx="362.3" cy="244.2" r="0.7" fill="rgb(200,200,200)"/>
<circle cx="235.0" cy="248.9" r="0.6" fill="rgb(170,170,170)"/>
<circle cx="379.5" cy="244.1" r="0.9" fill="rgb(150,150,150)"/>
<circle cx="275.9" cy="255.2" r="0.5" fill="rgb(200,200,200)"/>
<circle cx="323.6" cy="244.0" r="0.6" fill="rgb(185,185,185)"/>
<circle cx="307.3" cy="251.6" r="1.1" fill="rgb(150,150,150)"/>
<circle cx="411.8" cy="241.9" r="0.5" fill="rgb(200,200,200)"/>
<circle cx="250.4" cy="241.8" r="0.5" fill="rgb(150,150,150)"/>
<circle cx="302.4" cy="255.4" r="0.7" fill="rgb(120,120,120)"/>
<circle cx="427.5" cy="255.9" r="0.7" fill="rgb(150,150,150)"/>
<circle cx="259.4" cy="256.0" r="0.9" fill="rgb(120,120,120)"/>
<circle cx="285.5" cy="252.6" r="0.7" fill="rgb(170,170,170)"/>
<circle cx="312.6" cy="242.7" r="0.5" fill="rgb(170,170,170)"/>
<circle cx="237.7" cy="247.7" r="0.5" fill="rgb(200,200,200)"/>
<circle cx="420.6" cy="244.3" r="0.7" fill="rgb(170,170,170)"/>
<circle cx="391.2" cy="247.9" r="0.5" fill="rgb(185,185,185)"/>
<circle cx="261.5" cy="249.7" r="0.9" fill="rgb(150,150,150)"/>
<circle cx="287.9" cy="252.8" r="0.9" fill="rgb(120,120,120)"/>
<circle cx="351.8" cy="245.0" r="0.9" fill="rgb(120,120,120)"/>
<circle cx="298.7" cy="248.4" r="0.5" fill="rgb(170,170,170)"/>
<circle cx="261.4" cy="242.0" r="1.1" fill="rgb(170,170,170)"/>
<circle cx="296.1" cy="246.4" r="1.1" fill="rgb(120,120,120)"/>
<circle cx="275.3" cy="252.5" r="0.7" fill="rgb(170,170,170)"/>
<circle cx="282.6" cy="252.5" r="1.1" fill="rgb(120,120,120)"/>
<circle cx="226.0" cy="244.7" r="0.9" fill="rgb(185,185,185)"/>
<circle cx="418.5" cy="247.2" r="0.7" fill="rgb(185,185,185)"/>
<circle cx="389.7" cy="243.1" r="0.9" fill="rgb(150,150,150)"/>
<circle cx="222.8" cy="255.9" r="0.7" fill="rgb(150,150,150)"/>
<circle cx="346.7" cy="246.2" r="0.7" fill="rgb(185,185,185)"/>
<circle cx="295.9" cy="253.5" r="0.5" fill="rgb(200,200,200)"/>
<circle cx="261.8" cy="253.0" r="0.6" fill="rgb(185,185,185)"/>
<line x1="529.6" y1="239.1" x2="548.0" y2="258.5" stroke="#2a2a2a" stroke-width="1.3" />
<line x1="642.0" y1="239.1" x2="661.6" y2="258.5" stroke="#2a2a2a" stroke-width="1.3" />
<line x1="754.4" y1="239.1" x2="774.0" y2="258.5" stroke="#2a2a2a" stroke-width="1.3" />
<line x1="868.0" y1="239.1" x2="887.5" y2="258.5" stroke="#2a2a2a" stroke-width="1.3" />
<line x1="980.4" y1="239.1" x2="1000.0" y2="258.5" stroke="#2a2a2a" stroke-width="1.3" />
<line x1="1094.9" y1="239.1" x2="1113.3" y2="258.5" stroke="#2a2a2a" stroke-width="1.3" />
<line x1="131.0" y1="665.4" x2="1172.4" y2="665.4" stroke="#2a2a2a" stroke-width="1.4" />
<line x1="131.0" y1="678.1" x2="1172.4" y2="678.1" stroke="#2a2a2a" stroke-width="1.4" />
<line x1="143.7" y1="665.4" x2="155.4" y2="678.1" stroke="#2a2a2a" stroke-width="1.5" />
<line x1="174.9" y1="665.4" x2="186.6" y2="678.1" stroke="#2a2a2a" stroke-width="1.5" />
<line x1="206.1" y1="665.4" x2="217.8" y2="678.1" stroke="#2a2a2a" stroke-width="1.5" />
<line x1="237.2" y1="665.4" x2="248.9" y2="678.1" stroke="#2a2a2a" stroke-width="1.5" />
<line x1="268.4" y1="665.4" x2="280.1" y2="678.1" stroke="#2a2a2a" stroke-width="1.5" />
<line x1="299.6" y1="665.4" x2="311.3" y2="678.1" stroke="#2a2a2a" stroke-width="1.5" />
<line x1="330.8" y1="665.4" x2="342.5" y2="678.1" stroke="#2a2a2a" stroke-width="1.5" />
<line x1="362.0" y1="665.4" x2="373.7" y2="678.1" stroke="#2a2a2a" stroke-width="1.5" />
<line x1="393.1" y1="665.4" x2="404.8" y2="678.1" stroke="#2a2a2a" stroke-width="1.5" />
<line x1="424.3" y1="665.4" x2="436.0" y2="678.1" stroke="#2a2a2a" stroke-width="1.5" />
<line x1="455.5" y1="665.4" x2="467.2" y2="678.1" stroke="#2a2a2a" stroke-width="1.5" />
<line x1="486.7" y1="665.4" x2="498.4" y2="678.1" stroke="#2a2a2a" stroke-width="1.5" />
<line x1="517.9" y1="665.4" x2="529.6" y2="678.1" stroke="#2a2a2a" stroke-width="1.5" />
<line x1="549.0" y1="665.4" x2="560.7" y2="678.1" stroke="#2a2a2a" stroke-width="1.5" />
<line x1="580.2" y1="665.4" x2="591.9" y2="678.1" stroke="#2a2a2a" stroke-width="1.5" />
<line x1="611.4" y1="665.4" x2="623.1" y2="678.1" stroke="#2a2a2a" stroke-width="1.5" />
<line x1="642.6" y1="665.4" x2="654.3" y2="678.1" stroke="#2a2a2a" stroke-width="1.5" />
<line x1="673.8" y1="665.4" x2="685.5" y2="678.1" stroke="#2a2a2a" stroke-width="1.5" />
<line x1="704.9" y1="665.4" x2="716.6" y2="678.1" stroke="#2a2a2a" stroke-width="1.5" />
<line x1="736.1" y1="665.4" x2="747.8" y2="678.1" stroke="#2a2a2a" stroke-width="1.5" />
<line x1="767.3" y1="665.4" x2="779.0" y2="678.1" stroke="#2a2a2a" stroke-width="1.5" />
<line x1="798.5" y1="665.4" x2="810.2" y2="678.1" stroke="#2a2a2a" stroke-width="1.5" />
<line x1="829.7" y1="665.4" x2="841.4" y2="678.1" stroke="#2a2a2a" stroke-width="1.5" />
<line x1="860.8" y1="665.4" x2="872.5" y2="678.1" stroke="#2a2a2a" stroke-width="1.5" />
<line x1="892.0" y1="665.4" x2="903.7" y2="678.1" stroke="#2a2a2a" stroke-width="1.5" />
<line x1="923.2" y1="665.4" x2="934.9" y2="678.1" stroke="#2a2a2a" stroke-width="1.5" />
<line x1="954.4" y1="665.4" x2="966.1" y2="678.1" stroke="#2a2a2a" stroke-width="1.5" />
<line x1="985.6" y1="665.4" x2="997.3" y2="678.1" stroke="#2a2a2a" stroke-width="1.5" />
<line x1="1016.7" y1="665.4" x2="1028.4" y2="678.1" stroke="#2a2a2a" stroke-width="1.5" />
<line x1="1047.9" y1="665.4" x2="1059.6" y2="678.1" stroke="#2a2a2a" stroke-width="1.5" />
<line x1="1079.1" y1="665.4" x2="1090.8" y2="678.1" stroke="#2a2a2a" stroke-width="1.5" />
<line x1="1110.3" y1="665.4" x2="1122.0" y2="678.1" stroke="#2a2a2a" stroke-width="1.5" />
<line x1="1141.5" y1="665.4" x2="1153.2" y2="678.1" stroke="#2a2a2a" stroke-width="1.5" />
<line x1="212.3" y1="333.5" x2="271.0" y2="333.5" stroke="#2a2a2a" stroke-width="1.2" />
<line x1="1094.4" y1="333.5" x2="1154.0" y2="333.5" stroke="#2a2a2a" stroke-width="1.2" />
<line x1="320.0" y1="333.5" x2="368.6" y2="333.5" stroke="#2a2a2a" stroke-width="1.2" />
<line x1="416.7" y1="333.5" x2="465.3" y2="333.5" stroke="#2a2a2a" stroke-width="1.2" />
<line x1="513.4" y1="333.5" x2="562.0" y2="333.5" stroke="#2a2a2a" stroke-width="1.2" />
<line x1="610.2" y1="333.5" x2="658.8" y2="333.5" stroke="#2a2a2a" stroke-width="1.2" />
<line x1="706.9" y1="333.5" x2="755.5" y2="333.5" stroke="#2a2a2a" stroke-width="1.2" />
<line x1="803.6" y1="333.5" x2="852.2" y2="333.5" stroke="#2a2a2a" stroke-width="1.2" />
<line x1="900.3" y1="333.5" x2="948.9" y2="333.5" stroke="#2a2a2a" stroke-width="1.2" />
<line x1="997.0" y1="333.5" x2="1045.6" y2="333.5" stroke="#2a2a2a" stroke-width="1.2" />
<line x1="212.3" y1="600.7" x2="271.0" y2="600.7" stroke="#2a2a2a" stroke-width="1.2" />
<line x1="1094.4" y1="600.7" x2="1154.0" y2="600.7" stroke="#2a2a2a" stroke-width="1.2" />
<line x1="320.0" y1="600.7" x2="368.6" y2="600.7" stroke="#2a2a2a" stroke-width="1.2" />
<line x1="416.7" y1="600.7" x2="465.3" y2="600.7" stroke="#2a2a2a" stroke-width="1.2" />
<line x1="513.4" y1="600.7" x2="562.0" y2="600.7" stroke="#2a2a2a" stroke-width="1.2" />
<line x1="610.2" y1="600.7" x2="658.8" y2="600.7" stroke="#2a2a2a" stroke-width="1.2" />
<line x1="706.9" y1="600.7" x2="755.5" y2="600.7" stroke="#2a2a2a" stroke-width="1.2" />
<line x1="803.6" y1="600.7" x2="852.2" y2="600.7" stroke="#2a2a2a" stroke-width="1.2" />
<line x1="900.3" y1="600.7" x2="948.9" y2="600.7" stroke="#2a2a2a" stroke-width="1.2" />
<line x1="997.0" y1="600.7" x2="1045.6" y2="600.7" stroke="#2a2a2a" stroke-width="1.2" />
<line x1="212.3" y1="333.5" x2="212.3" y2="392.3" stroke="#2a2a2a" stroke-width="1.2" />
<line x1="212.3" y1="443.3" x2="212.3" y2="491.0" stroke="#2a2a2a" stroke-width="1.2" />
<line x1="212.3" y1="539.4" x2="212.3" y2="600.7" stroke="#2a2a2a" stroke-width="1.2" />
<line x1="1154.0" y1="333.5" x2="1154.0" y2="393.5" stroke="#2a2a2a" stroke-width="1.2" />
<line x1="1154.0" y1="442.5" x2="1154.0" y2="490.4" stroke="#2a2a2a" stroke-width="1.2" />
<line x1="1154.0" y1="539.0" x2="1154.0" y2="600.7" stroke="#2a2a2a" stroke-width="1.2" />
<line x1="322.5" y1="165.8" x2="322.5" y2="195.2" stroke="#2a2a2a" stroke-width="1.2" />
<line x1="322.5" y1="235.0" x2="322.5" y2="292.0" stroke="#2a2a2a" stroke-width="1.2" />
<line x1="322.5" y1="340.0" x2="322.5" y2="389.3" stroke="#2a2a2a" stroke-width="1.2" />
<line x1="322.5" y1="437.0" x2="322.5" y2="446.0" stroke="#2a2a2a" stroke-width="1.2" />
<polygon points="322.5,239.6 315.5,218.6 329.5,218.6" fill="#111" stroke="#111" stroke-width="0.5"/>
<polygon points="322.5,465.6 315.2,444.1 329.8,444.1" fill="#111" stroke="#111" stroke-width="0.5"/>
<line x1="322.5" y1="465.4" x2="352.0" y2="465.4" stroke="#2a2a2a" stroke-width="1.2" />
<line x1="399.0" y1="465.4" x2="448.0" y2="465.4" stroke="#2a2a2a" stroke-width="1.2" />
<line x1="496.7" y1="465.4" x2="543.0" y2="465.4" stroke="#2a2a2a" stroke-width="1.2" />
<line x1="592.8" y1="465.4" x2="641.4" y2="465.4" stroke="#2a2a2a" stroke-width="1.2" />
<line x1="689.2" y1="465.4" x2="737.8" y2="465.4" stroke="#2a2a2a" stroke-width="1.2" />
<line x1="786.3" y1="465.4" x2="834.5" y2="465.4" stroke="#2a2a2a" stroke-width="1.2" />
<line x1="883.5" y1="465.4" x2="931.5" y2="465.4" stroke="#2a2a2a" stroke-width="1.2" />
<line x1="980.3" y1="465.4" x2="992.0" y2="465.4" stroke="#2a2a2a" stroke-width="1.2" />
<polygon points="230.8,374.5 413.3,374.5 413.3,555.6" fill="none" stroke="#2a2a2a" stroke-width="1.4" />
<polygon points="931.5,387.7 931.5,530.5 1120.2,576.0" fill="none" stroke="#2a2a2a" stroke-width="1.3" />
<line x1="1040.0" y1="496.0" x2="1120.2" y2="576.0" stroke="#2a2a2a" stroke-width="1.9" />
<line x1="1005.0" y1="461.0" x2="1045.0" y2="501.0" stroke="#2a2a2a" stroke-width="1.5" />
<line x1="976.9" y1="403.8" x2="1136.5" y2="569.1" stroke="#2a2a2a" stroke-width="1.8" />
<polygon points="976.9,403.8 982.2,399.0 1142.2,563.8 1136.5,569.1" fill="#fefefe" stroke="#2a2a2a" stroke-width="1.5" />
<polygon points="1009.3,465.4 990.3,472.4 990.3,458.4" fill="#111" stroke="#111" stroke-width="0.5"/>
<line x1="1009.3" y1="465.4" x2="1009.3" y2="530.0" stroke="#2a2a2a" stroke-width="1.4" />
<polygon points="1009.3,549.8 1002.3,528.8 1016.3,528.8" fill="#111" stroke="#111" stroke-width="0.5"/>
<line x1="1009.3" y1="549.6" x2="1050.0" y2="504.5" stroke="#2a2a2a" stroke-width="1.3" />
<polygon points="1061.2,492.8 1053.6,511.5 1043.2,502.1" fill="#111" stroke="#111" stroke-width="0.5"/>
<polyline points="396.8,162.8 392.6,163.4 368.6,249.0" fill="none" stroke="#333" stroke-width="1.15" />
<polyline points="645.0,198.0 641.0,199.0 598.6,392.0" fill="none" stroke="#333" stroke-width="1.15" />
<polygon points="595.4,405.4 596.0,389.1 601.8,390.4" fill="#111" stroke="#111" stroke-width="0.5"/>
<polyline points="767.0,195.0 761.5,196.2 731.5,323.0" fill="none" stroke="#333" stroke-width="1.15" />
<polygon points="728.7,333.2 729.4,321.6 733.3,322.5" fill="#111" stroke="#111" stroke-width="0.5"/>
<polyline points="907.0,202.4 900.4,203.4 863.2,418.0" fill="none" stroke="#333" stroke-width="1.15" />
<polygon points="860.4,433.2 860.2,416.9 866.1,418.0" fill="#111" stroke="#111" stroke-width="0.5"/>
<polyline points="996.0,171.0 992.0,172.2 971.3,247.9" fill="none" stroke="#333" stroke-width="1.15" />
<polyline points="1192.4,433.9 1075.2,501.3" fill="none" stroke="#333" stroke-width="1.1" />
<polyline points="1071.0,553.3 1039.2,716.4 1035.5,717.2" fill="none" stroke="#333" stroke-width="1.15" />
<polyline points="1128.8,671.5 1115.3,787.3 1111.6,788.2" fill="none" stroke="#333" stroke-width="1.15" />
<polyline points="620.3,557.7 639.9,722.7 643.3,723.6" fill="none" stroke="#333" stroke-width="1.15" />
<polyline points="366.0,512.4 304.8,737.7 301.0,738.6" fill="none" stroke="#333" stroke-width="1.15" />
<polyline points="286.0,530.0 229.5,742.6 225.8,743.8" fill="none" stroke="#333" stroke-width="1.15" />
<polygon points="289.6,514.9 288.6,532.2 281.9,530.4" fill="#111" stroke="#111" stroke-width="0.5"/>
<line x1="58.7" y1="770.0" x2="58.7" y2="856.6" stroke="#777" stroke-width="1.2" />
<line x1="58.7" y1="856.8" x2="168.0" y2="856.8" stroke="#777" stroke-width="1.2" />
<polygon points="58.7,743.8 65.0,771.8 52.4,771.8" fill="#111" stroke="#111" stroke-width="0.5"/>
<polygon points="191.7,857.8 166.2,863.5 166.2,852.0" fill="#111" stroke="#111" stroke-width="0.5"/>
<g opacity="0.995">
<text x="46.5" y="86.1" font-family="Liberation Sans" font-size="34.9" textLength="74.5" lengthAdjust="spacingAndGlyphs" fill="#1a1a1a" stroke="#1a1a1a" stroke-width="0.05" font-weight="normal">1000</text>
<line x1="46.5" y1="92.4" x2="122.0" y2="92.4" stroke="#2a2a2a" stroke-width="1.3" />
<text x="397.5" y="171.9" font-family="Liberation Sans" font-size="25.7" textLength="39.5" lengthAdjust="spacingAndGlyphs" fill="#1a1a1a" stroke="#1a1a1a" stroke-width="0.5" font-weight="normal">201</text>
<text x="645.5" y="207.0" font-family="Liberation Sans" font-size="25.4" textLength="29.0" lengthAdjust="spacingAndGlyphs" fill="#1a1a1a" stroke="#1a1a1a" stroke-width="0.5" font-weight="normal">G2</text>
<text x="766.3" y="204.0" font-family="Liberation Sans" font-size="26.3" textLength="41.2" lengthAdjust="spacingAndGlyphs" fill="#1a1a1a" stroke="#1a1a1a" stroke-width="0.5" font-weight="normal">100</text>
<text x="908.3" y="211.7" font-family="Liberation Sans" font-size="25.4" textLength="28.7" lengthAdjust="spacingAndGlyphs" fill="#1a1a1a" stroke="#1a1a1a" stroke-width="0.5" font-weight="normal">G3</text>
<text x="997.5" y="179.7" font-family="Liberation Sans" font-size="25.4" textLength="42.0" lengthAdjust="spacingAndGlyphs" fill="#1a1a1a" stroke="#1a1a1a" stroke-width="0.5" font-weight="normal">200</text>
<text x="1191.3" y="443.7" font-family="Liberation Sans" font-size="25.7" textLength="27.9" lengthAdjust="spacingAndGlyphs" fill="#1a1a1a" stroke="#1a1a1a" stroke-width="0.5" font-weight="normal">10</text>
<text x="1004.3" y="726.0" font-family="Liberation Sans" font-size="25.7" textLength="28.0" lengthAdjust="spacingAndGlyphs" fill="#1a1a1a" stroke="#1a1a1a" stroke-width="0.5" font-weight="normal">20</text>
<text x="1067.5" y="796.1" font-family="Liberation Sans" font-size="25.7" textLength="41.5" lengthAdjust="spacingAndGlyphs" fill="#1a1a1a" stroke="#1a1a1a" stroke-width="0.5" font-weight="normal">300</text>
<text x="646.0" y="733.4" font-family="Liberation Sans" font-size="26.8" textLength="27.5" lengthAdjust="spacingAndGlyphs" fill="#1a1a1a" stroke="#1a1a1a" stroke-width="0.5" font-weight="normal">50</text>
<text x="260.7" y="746.8" font-family="Liberation Sans" font-size="25.1" textLength="38.6" lengthAdjust="spacingAndGlyphs" fill="#1a1a1a" stroke="#1a1a1a" stroke-width="0.5" font-weight="normal">101</text>
<text x="196.7" y="753.0" font-family="Liberation Sans" font-size="25.4" textLength="26.3" lengthAdjust="spacingAndGlyphs" fill="#1a1a1a" stroke="#1a1a1a" stroke-width="0.5" font-weight="normal">G1</text>
<text x="50.6" y="720.6" font-family="Liberation Sans" font-size="32.5" textLength="16.2" lengthAdjust="spacingAndGlyphs" fill="#1a1a1a" stroke="#1a1a1a" stroke-width="0.5" font-weight="normal">Z</text>
<text x="207.8" y="868.8" font-family="Liberation Sans" font-size="31.1" textLength="14.8" lengthAdjust="spacingAndGlyphs" fill="#1a1a1a" stroke="#1a1a1a" stroke-width="0.5" font-weight="normal">X</text>
<text x="633.2" y="987.0" font-family="Liberation Serif" font-size="40.6" textLength="18.0" lengthAdjust="spacingAndGlyphs" fill="#222" stroke="#222" stroke-width="0" font-weight="normal">2</text>
<text x="652.2" y="987.0" font-family="Liberation Serif" font-size="40.0" textLength="19.2" lengthAdjust="spacingAndGlyphs" fill="#222" stroke="#222" stroke-width="0" font-weight="normal">B</text>
</g>
<g stroke="#303030" fill="none" stroke-linecap="round">
<path d="M598.2 957.2 V991.6 M627.9 957.2 V991.6" stroke-width="1.7"/>
<path d="M598.2 959.1 H627.9 M598.2 988.5 H627.9" stroke-width="1.1"/>
<path d="M611.1 961 C609 965 606.5 968 602.8 970.8" stroke-width="1.3"/>
<path d="M610.6 964.6 H619.2 C617 970 611 975.5 601.7 978.4" stroke-width="1.1"/>
<path d="M609 967.1 C612.5 971.5 617.5 975 623.9 977" stroke-width="1.4"/>
<path d="M613.7 976.3 L615.9 979.8" stroke-width="1.5"/>
<path d="M607.5 981.8 C611 982.5 615.5 984 618.8 985.9" stroke-width="1.7"/>
</g>
</g>
<g id="wm">
<defs>
<linearGradient id="gs" x1="0" x2="1" y1="0" y2="0">
<stop offset="0" stop-color="#000" stop-opacity="0"/>
<stop offset="0.3" stop-color="#000" stop-opacity="0.03"/>
<stop offset="0.6" stop-color="#000" stop-opacity="0.07"/>
<stop offset="0.88" stop-color="#000" stop-opacity="0.16"/>
<stop offset="1" stop-color="#000" stop-opacity="0.5"/>
</linearGradient>
<linearGradient id="gs2" x1="0" x2="1" y1="0" y2="0">
<stop offset="0" stop-color="#000" stop-opacity="0"/>
<stop offset="0.5" stop-color="#000" stop-opacity="0.035"/>
<stop offset="0.9" stop-color="#000" stop-opacity="0.10"/>
<stop offset="1" stop-color="#000" stop-opacity="0.28"/>
</linearGradient>
<linearGradient id="gbox" x1="0" x2="1" y1="0" y2="0">
<stop offset="0" stop-color="#000" stop-opacity="0"/>
<stop offset="0.3" stop-color="#000" stop-opacity="0.03"/>
<stop offset="0.8" stop-color="#000" stop-opacity="0.02"/>
<stop offset="1" stop-color="#000" stop-opacity="0"/>
</linearGradient>
<linearGradient id="gu" x1="0" x2="0" y1="0" y2="1">
<stop offset="0" stop-color="#000" stop-opacity="0"/>
<stop offset="0.6" stop-color="#000" stop-opacity="0.35"/>
<stop offset="1" stop-color="#000" stop-opacity="0.9"/>
</linearGradient>
<linearGradient id="gv" x1="0" x2="0" y1="0" y2="1">
<stop offset="0" stop-color="#000" stop-opacity="0.02"/>
<stop offset="0.5" stop-color="#000" stop-opacity="0.25"/>
<stop offset="1" stop-color="#000" stop-opacity="0.3"/>
</linearGradient>
<filter id="bl"><feGaussianBlur stdDeviation="0.8"/></filter>
</defs>
<g filter="url(#bl)">
<rect x="976" y="963" width="229" height="5" fill="url(#gs)"/>
<rect x="976" y="974.5" width="229" height="3.6" fill="url(#gs2)"/>
<rect x="976" y="985.5" width="229" height="4.5" fill="url(#gs2)"/>
<rect x="972" y="960" width="215" height="32" fill="url(#gbox)"/>
<rect x="1054.5" y="957" width="2.6" height="33" fill="url(#gu)"/>
<rect x="1073.4" y="957" width="2.6" height="33" fill="url(#gu)"/>
<rect x="1115" y="958" width="1.6" height="32" fill="url(#gv)" opacity="0.6"/>
<rect x="1148" y="957" width="2" height="34" fill="url(#gv)"/>
</g>
<path d="M1055.7 988 Q1056.5 993 1065.4 993 Q1074 993 1074.8 988" fill="none" stroke="#111" stroke-width="1.6"/>
<circle cx="1204.5" cy="965.7" r="1.6" fill="#222"/><rect x="1201" y="975.3" width="5" height="2" fill="#222"/><circle cx="1204.8" cy="988" r="1.4" fill="#222"/>

</g>
</svg>
</body></html>
